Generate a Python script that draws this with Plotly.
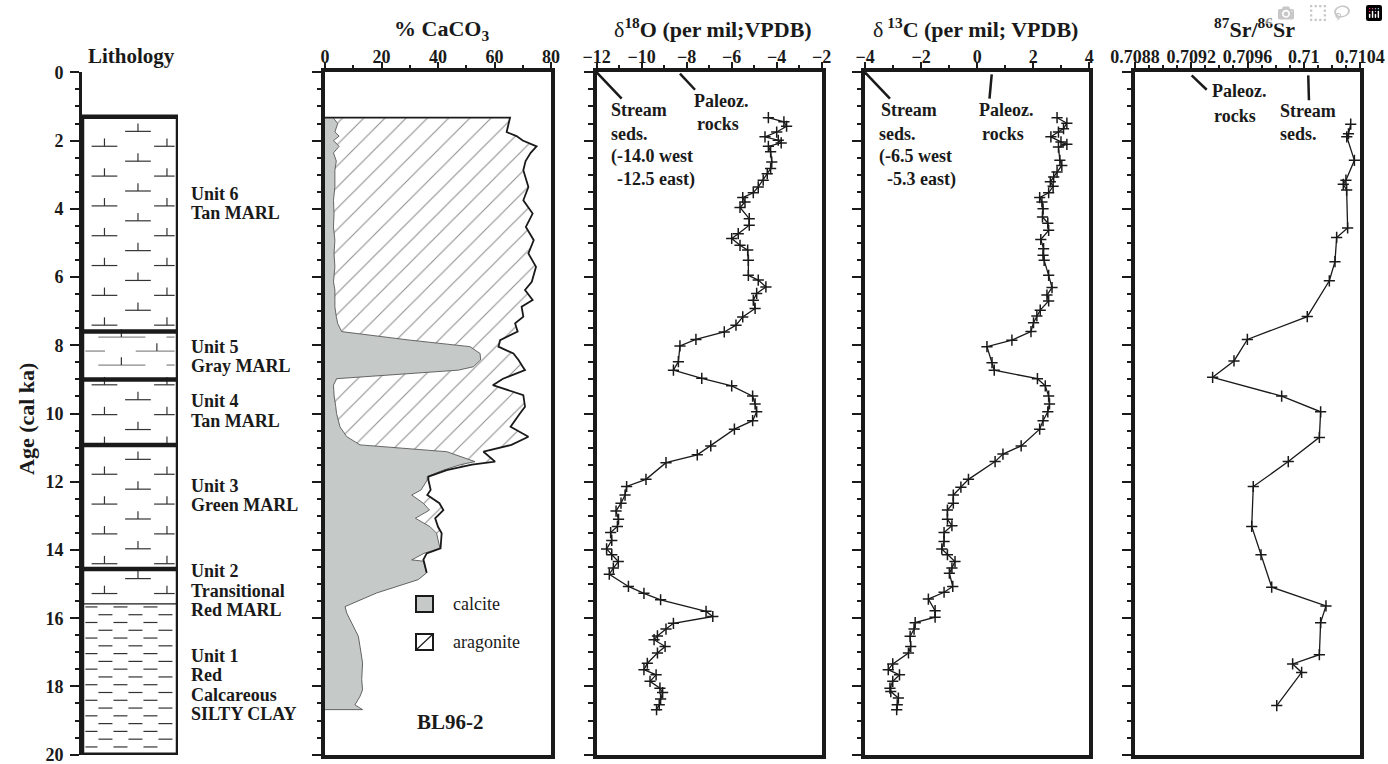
import plotly.graph_objects as go

W, H = 1388, 764

# ---------------- data ----------------
# % CaCO3 (core BL96-2): calcite and total carbonate (calcite + aragonite)
ca_age = [1.33, 1.50, 1.75, 1.87, 2.00, 2.17, 2.36, 2.60, 2.87, 3.36, 3.75, 4.14, 4.53, 4.92, 5.31,
          5.70, 6.14, 6.38, 6.67, 6.87, 7.16, 7.36, 7.60, 7.85, 8.04, 8.24, 8.43, 8.63, 8.73, 8.98,
          9.17, 9.46, 9.80, 10.00, 10.39, 10.68, 10.92, 11.12, 11.41, 11.50, 11.66, 11.85, 11.95,
          12.24, 12.39, 12.63, 12.83, 13.07, 13.32, 13.51, 13.95, 14.10, 14.29, 14.33, 14.67, 14.87,
          15.26, 15.66, 15.85, 16.24, 16.53, 16.83, 17.31, 17.80, 18.10, 18.29, 18.54, 18.68]
calcite_pct = [2.9, 4.5, 3.5, 5.0, 3.0, 5.0, 3.0, 4.0, 3.5, 3.5, 3.0, 3.2, 3.0, 3.5, 3.2,
               3.5, 3.0, 3.5, 3.5, 3.5, 4.0, 4.5, 5.9, 30.1, 51.3, 54.9, 55.1, 52.5, 47.2, 4.1,
               3.0, 3.2, 3.8, 4.1, 5.3, 7.7, 12.4, 43.1, 53.1, 48.0, 41.9, 36.2, 36.2,
               34.0, 30.7, 34.8, 37.0, 32.0, 37.2, 39.5, 40.7, 35.0, 30.7, 34.8, 36.0, 33.0,
               18.3, 7.1, 7.7, 10.0, 11.8, 12.4, 13.3, 13.0, 13.3, 12.4, 10.6, 13.3]
total_pct = [65.5, 65.0, 64.3, 67.8, 70.0, 74.9, 72.8, 71.0, 70.2, 72.0, 70.2, 73.5, 71.1, 73.9, 72.0,
             74.7, 73.2, 70.8, 73.5, 69.6, 70.2, 67.3, 68.2, 62.0, 61.4, 66.7, 68.5, 70.0, 70.8, 63.0,
             59.4, 70.2, 70.8, 69.0, 65.7, 72.0, 66.0, 56.1, 60.2, 52.0, 43.1, 36.6, 36.6,
             37.4, 36.2, 40.5, 41.9, 39.0, 40.0, 41.3, 40.9, 36.0, 34.8, 35.0, 36.0, 33.0,
             18.3, 7.1, 7.7, 10.0, 11.8, 12.4, 13.3, 13.0, 13.3, 12.4, 10.6, 13.3]

# delta 18O (per mil VPDB)
o18_age = [1.33, 1.45, 1.58, 1.75, 1.89, 1.99, 2.07, 2.17, 2.33, 2.63, 2.82, 2.97, 3.16, 3.36, 3.53,
           3.67, 3.80, 3.96, 4.29, 4.48, 4.73, 4.87, 5.07, 5.21, 5.51, 5.95, 6.09, 6.29, 6.48, 6.68,
           6.92, 7.17, 7.41, 7.61, 7.83, 8.02, 8.48, 8.73, 8.97, 9.19, 9.49, 9.72, 9.95, 10.21, 10.46,
           10.95, 11.21, 11.44, 11.93, 12.14, 12.39, 12.63, 12.86, 13.10, 13.31, 13.49, 13.72, 13.97,
           14.14, 14.34, 14.53, 14.71, 15.07, 15.27, 15.46, 15.80, 15.95, 16.15, 16.32, 16.52, 16.63,
           16.83, 17.02, 17.32, 17.51, 17.66, 17.85, 18.05, 18.18, 18.37, 18.54, 18.68]
o18_val = [-4.37, -3.68, -3.56, -4.00, -4.52, -3.93, -3.80, -4.37, -4.27, -4.22, -4.27, -4.42, -4.60, -4.82, -5.04,
           -5.51, -5.41, -5.63, -5.22, -5.22, -5.71, -6.00, -5.63, -5.29, -5.26, -5.26, -4.82, -4.48, -4.89, -5.04,
           -4.96, -5.51, -5.81, -6.33, -7.59, -8.30, -8.37, -8.59, -7.33, -6.00, -5.07, -4.96, -4.89, -5.07, -5.88,
           -6.93, -7.53, -8.92, -9.81, -10.67, -10.74, -10.92, -11.14, -11.03, -11.08, -11.38, -11.33, -11.56,
           -11.33, -11.04, -11.26, -11.44, -10.59, -9.90, -9.16, -7.14, -6.84, -8.59, -8.92, -9.30, -9.45,
           -8.96, -9.30, -9.75, -9.90, -9.36, -9.63, -9.19, -9.07, -9.16, -9.22, -9.34]

# delta 13C (per mil VPDB)
c13_age = [1.33, 1.49, 1.65, 1.75, 1.89, 2.04, 2.11, 2.19, 2.58, 2.73, 2.92, 3.07, 3.21, 3.34, 3.53,
           3.67, 3.80, 4.00, 4.24, 4.42, 4.63, 4.90, 5.17, 5.36, 5.51, 5.95, 6.31, 6.53, 6.70, 6.97,
           7.14, 7.34, 7.60, 7.85, 8.04, 8.51, 8.73, 8.98, 9.19, 9.49, 9.72, 9.95, 10.21, 10.46, 10.95,
           11.19, 11.41, 11.93, 12.16, 12.39, 12.63, 12.83, 13.10, 13.29, 13.49, 13.75, 13.97, 14.14,
           14.34, 14.53, 14.68, 15.07, 15.24, 15.44, 15.78, 15.97, 16.13, 16.32, 16.53, 16.83, 17.02,
           17.34, 17.51, 17.66, 17.85, 18.05, 18.15, 18.34, 18.54, 18.68]
c13_val = [2.85, 3.20, 3.08, 2.90, 2.63, 2.99, 3.20, 2.90, 2.95, 3.02, 2.85, 2.73, 2.61, 2.71, 2.55,
           2.23, 2.31, 2.35, 2.33, 2.52, 2.55, 2.27, 2.37, 2.35, 2.39, 2.55, 2.67, 2.49, 2.55, 2.25,
           2.13, 2.01, 1.92, 1.24, 0.35, 0.53, 0.61, 2.15, 2.43, 2.55, 2.58, 2.52, 2.35, 2.23, 1.57,
           0.92, 0.64, -0.31, -0.58, -0.85, -0.85, -1.06, -1.06, -0.90, -1.18, -1.18, -1.26, -1.06,
           -0.79, -0.90, -0.99, -0.87, -1.18, -1.74, -1.50, -1.50, -2.21, -2.25, -2.39, -2.37, -2.45,
           -3.01, -3.17, -2.77, -3.01, -3.11, -3.08, -2.81, -2.85, -2.87]

# 87Sr/86Sr
sr_age = [1.52, 1.80, 1.89, 2.58, 3.16, 3.28, 3.45, 4.56, 4.84, 5.55, 6.11, 7.16, 7.83, 8.46, 8.94,
          9.49, 9.95, 10.70, 11.41, 12.14, 13.31, 14.14, 15.09, 15.64, 16.13, 17.07, 17.34, 17.59, 18.56]
sr_val = [0.710334, 0.710318, 0.710306, 0.710360, 0.710300, 0.710281, 0.710305, 0.710312, 0.710234,
          0.710222, 0.710182, 0.710025, 0.709599, 0.709504, 0.709352, 0.709843, 0.710120, 0.710111,
          0.709890, 0.709641, 0.709630, 0.709696, 0.709772, 0.710158, 0.710120, 0.710111, 0.709921,
          0.709985, 0.709808]

# lithology units
unit_top = [1.30, 7.60, 9.00, 10.92, 14.56, 15.58]
unit_bot = [7.60, 9.00, 10.92, 14.56, 15.58, 20.00]
unit_kind = ["marl", "graymarl", "marl", "marl", "marl", "clay"]
unit_labels = [["Unit 6", "Tan MARL"], ["Unit 5", "Gray MARL"], ["Unit 4", "Tan MARL"],
               ["Unit 3", "Green MARL"], ["Unit 2", "Transitional", "Red MARL"],
               ["Unit 1", "Red", "Calcareous", "SILTY CLAY"]]
boundary_thick = [True, True, True, True, False]

age_ticks = [0, 2, 4, 6, 8, 10, 12, 14, 16, 18, 20]
sr_tickvals = [0.7088, 0.7092, 0.7096, 0.7100, 0.7104]
sr_ticktext = ["0.7088", "0.7092", "0.7096", "0.71", "0.7104"]

# ---------------- layout helpers (pixel geometry) ----------------
def PX(x):
    return x / W

def PY(y):
    return 1 - y / H

INK = "#1a1a1a"
SERIF = "Liberation Serif"
Y_TOP, Y_BOT = 72, 755
ydom = [PY(Y_BOT), PY(Y_TOP)]

panels = {
    "lith": (82, 178),
    "ca": (325, 551),
    "o18": (596.7, 821.7),
    "c13": (865, 1089.3),
    "sr": (1135, 1360),
}

fig = go.Figure()

# ---------------- lithology column pattern ----------------
lx, ly = [], []
gx, gy = [], []

def seg(xs, ys, x0, x1, y0, y1):
    xs.extend([x0, x1, None])
    ys.extend([y0, y1, None])

XL, XR = 0.035, 0.965
ROW0, STEP, TICK_H, HALF = 1.73, 0.437, 0.23, 0.134
for j in range(60):
    a = ROW0 + STEP * j
    for top, bot, kind in zip(unit_top, unit_bot, unit_kind):
        if kind == "marl" and top < a <= bot + 0.02:
            centers = [0.583] if j % 2 == 0 else [0.234, 0.885]
            for c in centers:
                seg(lx, ly, max(XL, c - HALF), min(XR, c + HALF), a, a)
                seg(lx, ly, c, c, a, a - TICK_H)

for top, bot, kind in zip(unit_top, unit_bot, unit_kind):
    if kind == "graymarl":
        k = 0
        a = top + 0.16
        while a < bot - 0.1:
            if k % 2 == 0:
                seg(gx, gy, 0.17, 0.66, a, a)
                seg(lx, ly, 0.41, 0.41, a, a - TICK_H)
                seg(gx, gy, 0.88, XR, a, a)
            else:
                seg(gx, gy, XL, 0.24, a, a)
                seg(gx, gy, 0.56, XR, a, a)
                seg(lx, ly, 0.78, 0.78, a, a - TICK_H)
            k += 1
            a += 0.41
    if kind == "clay":
        k = 0
        a = top + 0.09
        while a < bot - 0.1:
            off = (k % 2) * 0.156
            m = -1
            while True:
                x0 = XL - 0.02 + off + m * 0.3125
                x1 = x0 + 0.146
                if x0 > XR:
                    break
                c0, c1 = max(XL, x0), min(XR, x1)
                if c1 - c0 > 0.02:
                    seg(lx, ly, c0, c1, a, a)
                m += 1
            k += 1
            a += 0.228

fig.add_trace(go.Scatter(x=gx, y=gy, mode="lines", line=dict(color="#8a8a8a", width=1.3),
                         xaxis="x", yaxis="y", hoverinfo="skip", showlegend=False))
fig.add_trace(go.Scatter(x=lx, y=ly, mode="lines", line=dict(color="#333333", width=1.2),
                         xaxis="x", yaxis="y", hoverinfo="skip", showlegend=False))

# ---------------- CaCO3 panel ----------------
fig.add_trace(go.Scatter(x=calcite_pct + [0.0], y=ca_age + [ca_age[-1]], mode="lines",
                         fill="tozerox", fillcolor="#c5c9c8",
                         line=dict(color="#555555", width=0.9),
                         xaxis="x2", yaxis="y2", hoverinfo="skip", showlegend=False))
fig.add_trace(go.Scatter(x=total_pct, y=ca_age, mode="lines", fill="tonextx",
                         fillcolor="white",
                         fillpattern=dict(shape="/", fgcolor=INK, bgcolor="white",
                                          size=15, solidity=0.07),
                         line=dict(width=0, color="rgba(0,0,0,0)"),
                         xaxis="x2", yaxis="y2", hoverinfo="skip", showlegend=False))
last = max(i for i in range(len(total_pct)) if total_pct[i] > calcite_pct[i]) + 1
fig.add_trace(go.Scatter(x=[0.0] + total_pct[:last + 1], y=[ca_age[0]] + ca_age[:last + 1],
                         mode="lines", line=dict(color=INK, width=1.8),
                         xaxis="x2", yaxis="y2", hoverinfo="skip", showlegend=False))

# ---------------- isotope panels ----------------
mk = dict(symbol="cross-thin", size=8, line=dict(width=1.5, color=INK), color=INK)
for xs, ys, xa, ya in [(o18_val, o18_age, "x3", "y3"),
                       (c13_val, c13_age, "x4", "y4"),
                       (sr_val, sr_age, "x5", "y5")]:
    fig.add_trace(go.Scatter(x=xs, y=ys, mode="lines+markers",
                             line=dict(color=INK, width=1.3), marker=mk,
                             xaxis=xa, yaxis=ya, hoverinfo="skip", showlegend=False))

# ---------------- axes ----------------
tickfont = dict(family=SERIF, size=18, color=INK, weight="bold")
LW = 3.5
YRANGE = [20.01, -0.01]


def yax(anchor, labels):
    return dict(domain=ydom, range=YRANGE, anchor=anchor, showline=True, linewidth=LW if anchor != "x" else 3,
                linecolor=INK, mirror=(anchor != "x"), ticks="outside", ticklen=9, tickwidth=1.5,
                tickcolor=INK, tickmode="array", tickvals=age_ticks,
                minor=dict(ticks="outside", ticklen=4.5, tickwidth=1.5, tickcolor=INK, dtick=0.5, tick0=0),
                showticklabels=labels, tickfont=tickfont, ticklabelstandoff=3, automargin=False,
                ticklabeloverflow="allow",
                showgrid=False, zeroline=False, fixedrange=True)


def xax(key, rng, dtick, mdtick, anchor, tick0=None, tickvals=None, ticktext=None):
    d = dict(domain=[PX(panels[key][0]), PX(panels[key][1])], range=rng, anchor=anchor, side="top",
             showline=True, linewidth=LW, linecolor=INK, mirror=True, ticks="outside",
             ticklen=6, tickwidth=1.5, tickcolor=INK, tickfont=tickfont, showgrid=False,
             zeroline=False, fixedrange=True, automargin=False, ticklabelstandoff=-8,
             ticklabeloverflow="allow",
             minor=dict(ticks="outside", ticklen=3, tickwidth=1.5, tickcolor=INK, dtick=mdtick,
                        tick0=rng[0]))
    if tickvals is not None:
        d.update(tickmode="array", tickvals=tickvals, ticktext=ticktext)
    else:
        d.update(tickmode="linear", tick0=rng[0] if tick0 is None else tick0, dtick=dtick)
    return d


layout = dict(
    width=W, height=H, margin=dict(l=0, r=0, t=0, b=0, autoexpand=False),
    paper_bgcolor="white", plot_bgcolor="white", showlegend=False,
    xaxis=dict(domain=[PX(panels["lith"][0]), PX(panels["lith"][1])], range=[0, 1],
               visible=False, fixedrange=True, automargin=False),
    yaxis=yax("x", True),
    xaxis2=xax("ca", [0, 80], 20, 10, "y2"),
    yaxis2=yax("x2", False),
    xaxis3=xax("o18", [-12, -2], 2, 1, "y3"),
    yaxis3=yax("x3", False),
    xaxis4=xax("c13", [-4, 4], 2, 1, "y4"),
    yaxis4=yax("x4", False),
    xaxis5=xax("sr", [0.7088, 0.7104], None, 0.0001, "y5", tickvals=sr_tickvals, ticktext=sr_ticktext),
    yaxis5=yax("x5", False),
)
fig.update_layout(**layout)

# ---------------- shapes ----------------
shapes = []
shapes.append(dict(type="rect", xref="x", yref="y", x0=0, x1=1, y0=unit_top[0], y1=unit_bot[-1],
                   line=dict(color=INK, width=4.5), layer="above"))
for b, thick in zip(unit_top[1:], boundary_thick):
    shapes.append(dict(type="line", xref="x", yref="y", x0=0, x1=1, y0=b, y1=b,
                       line=dict(color=INK, width=4.5 if thick else 1.3), layer="above"))

# legend swatches (CaCO3 panel)
shapes.append(dict(type="rect", xref="paper", yref="paper", x0=PX(416), x1=PX(433), y0=PY(612), y1=PY(596),
                   fillcolor="#c5c9c8", line=dict(color=INK, width=2)))
shapes.append(dict(type="rect", xref="paper", yref="paper", x0=PX(416), x1=PX(433), y0=PY(650), y1=PY(634),
                   fillcolor="white", line=dict(color=INK, width=2)))
shapes.append(dict(type="line", xref="paper", yref="paper", x0=PX(416), x1=PX(433), y0=PY(650), y1=PY(634),
                   line=dict(color=INK, width=1.2)))

# end-member pointer lines
pointers = [("x3", "y3", -12.0, 0.0, -10.89, 0.77), ("x3", "y3", -8.30, 0.04, -7.63, 0.51),
            ("x4", "y4", -4.0, 0.0, -3.11, 0.77), ("x4", "y4", 0.52, 0.06, 0.44, 0.77),
            ("x5", "y5", 0.709203, 0.09, 0.709310, 0.51), ("x5", "y5", 0.710032, 0.09, 0.710037, 0.82)]
for xa, ya, x0, y0, x1, y1 in pointers:
    shapes.append(dict(type="line", xref=xa, yref=ya, x0=x0, y0=y0, x1=x1, y1=y1,
                       line=dict(color=INK, width=2.5)))
fig.update_layout(shapes=shapes)

# ---------------- annotations ----------------
anns = []


def ann(text, x, y, size=18, bold=True, xanchor="left", yanchor="middle", angle=0):
    anns.append(dict(text=text, x=PX(x), y=PY(y), xref="paper", yref="paper", showarrow=False,
                     xanchor=xanchor, yanchor=yanchor, textangle=angle,
                     font=dict(family=SERIF, size=size, color=INK, weight="bold" if bold else "normal")))


# panel titles
ann("Lithology", 131, 56, size=21, xanchor="center")
ann("<b>%</b> <b>CaCO<sub>3</sub></b>", 441, 30, size=22, bold=False, xanchor="center")
ann("δ<sup><b>18</b></sup><b>O (per mil;VPDB)</b>", 713, 28, size=22, bold=False, xanchor="center")
ann("δ<sup><b> 13</b></sup><b>C (per mil; VPDB)</b>", 975, 28, size=22, bold=False, xanchor="center")
ann("<sup><b>87</b></sup><b>Sr/</b><sup><b>86</b></sup><b>Sr</b>", 1254, 28, size=22, bold=False,
    xanchor="center")
ann("Age (cal ka)", 26, 419, size=22, xanchor="center", angle=-90)

# unit labels
label_first_y = [194, 346.5, 401, 485.5, 571, 655.5]
for lines, y0 in zip(unit_labels, label_first_y):
    for i, t in enumerate(lines):
        ann(t, 189, y0 + 19.5 * i, size=18)

# CaCO3 legend and core name
ann("calcite", 451, 604, size=18, bold=False)
ann("aragonite", 451, 642, size=18, bold=False)
ann("BL96-2", 450, 722, size=21, xanchor="center")

# end-member labels
for t, x, y in [("Stream", 609, 110), ("seds.", 609, 134), ("(-14.0 west", 609, 157),
                ("-12.5 east)", 615, 180), ("Paleoz.", 692, 101), ("rocks", 695, 124),
                ("Stream", 879, 110), ("seds.", 877, 134), ("(-6.5 west", 877, 157),
                ("-5.3 east)", 885, 180), ("Paleoz.", 977, 110), ("rocks", 980, 134),
                ("Paleoz.", 1210, 91), ("rocks", 1212, 116), ("Stream", 1278, 111),
                ("seds.", 1278, 134)]:
    ann(t, x, y, size=18)

fig.update_layout(annotations=anns)

fig.write_html("out.html", post_script="document.body.style.margin='0px';")
